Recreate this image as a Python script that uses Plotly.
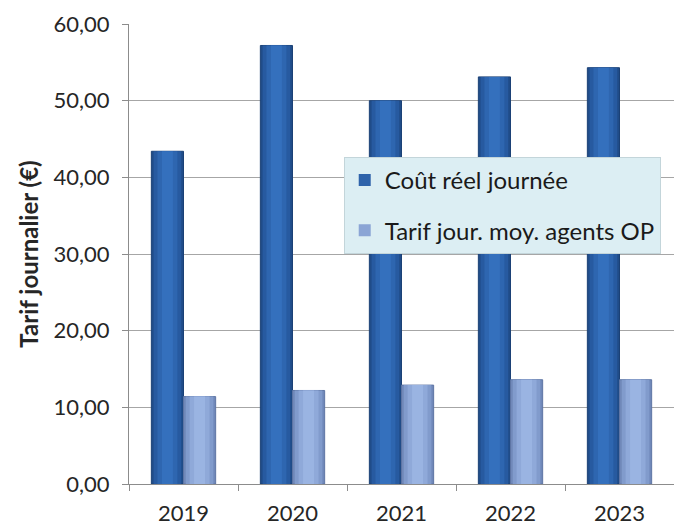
import plotly.graph_objects as go

years = ["2019", "2020", "2021", "2022", "2023"]
cout_reel = [43.4, 57.2, 50.0, 53.1, 54.3]
tarif_moy = [11.4, 12.2, 12.9, 13.6, 13.6]
y_ticks = [0, 10, 20, 30, 40, 50, 60]

series = [
    dict(name="Coût réel journée", values=cout_reel, center=-0.5, legend_color="#2F63AA",
         edge="#1B4176",
         layers=[(1.0, "#204C88"), (0.86, "#275AA0"), (0.62, "#2E66B0"), (0.34, "#3470BD")]),
    dict(name="Tarif jour. moy. agents OP", values=tarif_moy, center=0.5, legend_color="#8BA5D5",
         edge="#5E75A4",
         layers=[(1.0, "#7088B9"), (0.86, "#819BCC"), (0.62, "#8FA9D9"), (0.34, "#9AB4E2")]),
]
bar_w = 0.295

fig = go.Figure()
for i, s in enumerate(series):
    c = s["center"] * bar_w
    n = len(years)
    for j, (frac, col) in enumerate(s["layers"]):
        w = frac * bar_w
        fig.add_trace(go.Bar(
            x=years, y=s["values"], name=s["name"],
            width=[w] * n, offset=[c - w / 2] * n,
            marker=dict(color=col, line=dict(color=s["edge"] if j == 0 else col,
                                             width=1 if j == 0 else 0)),
            legendgroup=f"g{i}", showlegend=False, hoverinfo="skip",
        ))
    # legend entry (invisible bars, visible legend symbol)
    fig.add_trace(go.Bar(
        x=years, y=s["values"], name=s["name"],
        width=[bar_w] * n, offset=[c - bar_w / 2] * n,
        marker=dict(color=s["legend_color"], opacity=0.0, line=dict(width=0)),
        legendgroup=f"g{i}", showlegend=True,
    ))

font_family = "Lato, 'Open Sans', sans-serif"
fig.update_layout(
    width=674, height=527,
    margin=dict(l=129, r=0, t=24, b=43, autoexpand=False),
    paper_bgcolor="white", plot_bgcolor="white",
    barmode="overlay",
    separators=", ",
    font=dict(family=font_family, size=22, color="#262626"),
    showlegend=True,
    legend=dict(
        x=0.394, y=0.711, xanchor="left", yanchor="top",
        bgcolor="#DCEEF3", bordercolor="#C3D5DA", borderwidth=1,
        font=dict(family=font_family, size=24, color="#1a1a1a"),
        traceorder="grouped", tracegroupgap=16,
        itemwidth=30,
    ),
    xaxis=dict(
        type="category", tickson="boundaries", ticks="outside", ticklen=6,
        tickcolor="#8C8C8C", showline=True, linecolor="#8C8C8C", linewidth=1,
        tickfont=dict(size=22), showgrid=False, automargin=False,
        ticklabelstandoff=10,
    ),
    yaxis=dict(
        range=[0, 60], tickvals=y_ticks, tickformat=".2f",
        showgrid=True, gridcolor="#A6A6A6", gridwidth=1,
        showline=True, linecolor="#8C8C8C", linewidth=1,
        ticks="outside", ticklen=6, tickcolor="#8C8C8C",
        tickfont=dict(size=22), zeroline=False, automargin=False,
        ticklabelstandoff=8,
        title=dict(text="<b>Tarif journalier (€)</b>", font=dict(size=24), standoff=8),
    ),
)

fig.write_html(
    "out.html",
    config={"displayModeBar": False},
    post_script="document.body.style.margin='0';document.body.style.overflow='hidden';",
)
